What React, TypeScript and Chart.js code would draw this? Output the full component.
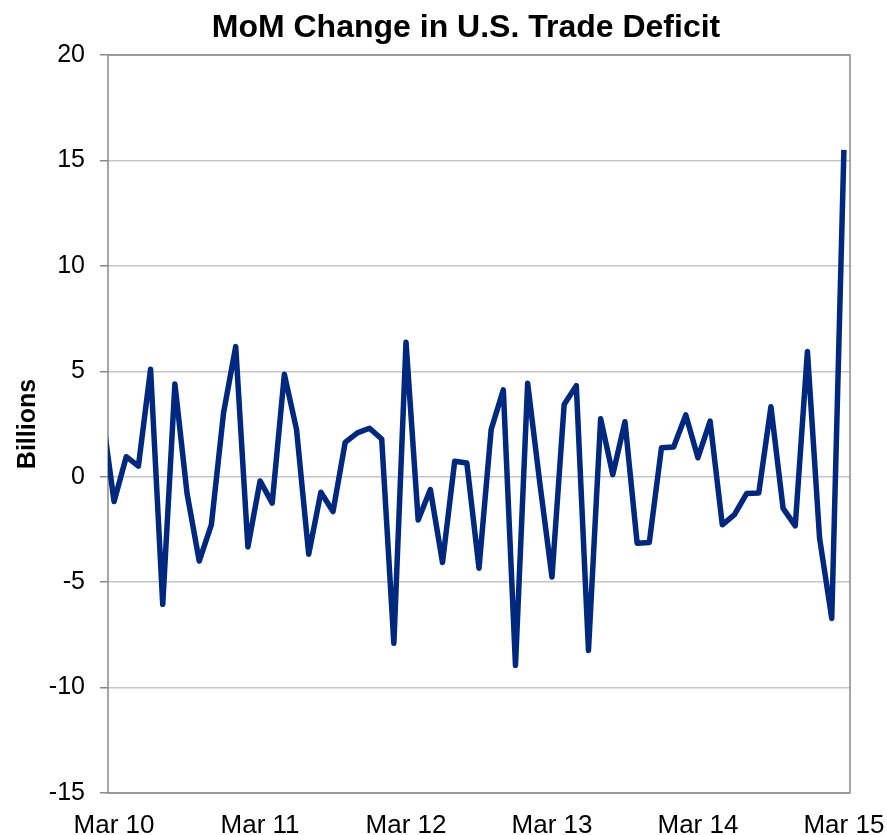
import React, { useEffect, useRef } from "react";
import { Chart, registerables } from "chart.js";

Chart.register(...registerables);

const TITLE = "MoM Change in U.S. Trade Deficit";
const Y_TITLE = "Billions";

// Month-over-month change (billions), one value per month starting Feb 10
const FIRST_MONTH_INDEX = -1;
const momChange: number[] = [
  3.1, -1.18, 0.95, 0.5, 5.1, -6.05, 4.4, -0.8, -4.0, -2.27,
  3.03, 6.17, -3.33, -0.2, -1.25, 4.86, 2.24, -3.68, -0.74, -1.65,
  1.63, 2.08, 2.3, 1.79, -7.9, 6.38, -2.05, -0.61, -4.07, 0.73,
  0.65, -4.34, 2.24, 4.12, -8.95, 4.43, -0.3, -4.76, 3.42, 4.32,
  -8.24, 2.75, 0.1, 2.61, -3.15, -3.12, 1.37, 1.41, 2.93, 0.9,
  2.64, -2.28, -1.8, -0.8, -0.77, 3.32, -1.5, -2.33, 5.94, -2.91,
  -6.72, 15.5,
];

// Tick labels, one every 12 months starting at month index 0 (Mar 10)
const xTickLabels: string[] = ["Mar 10", "Mar 11", "Mar 12", "Mar 13", "Mar 14", "Mar 15"];
const MONTHS_PER_TICK = 12;

const Y_MIN = -15;
const Y_MAX = 20;
const Y_STEP = 5;

const FONT = '"Liberation Sans", Arial, Helvetica, sans-serif';
const LINE_COLOR = "#00287f";

const plotFrame = {
  id: "plotFrame",
  beforeDatasetsDraw(chart: Chart) {
    const { ctx, chartArea } = chart;
    ctx.save();
    ctx.strokeStyle = "#898989";
    ctx.lineWidth = 1.5;
    ctx.strokeRect(chartArea.left, chartArea.top, chartArea.right - chartArea.left, chartArea.bottom - chartArea.top);
    ctx.restore();
  },
};

const chartHeading = {
  id: "chartHeading",
  afterDraw(chart: Chart) {
    const { ctx } = chart;
    ctx.save();
    ctx.font = `bold 32px ${FONT}`;
    ctx.fillStyle = "#000";
    ctx.textAlign = "center";
    ctx.textBaseline = "alphabetic";
    ctx.fillText(TITLE, 466, 37);
    ctx.restore();
  },
};

export default function App() {
  const canvasRef = useRef<HTMLCanvasElement | null>(null);

  useEffect(() => {
    if (!canvasRef.current) return;
    const points = momChange.map((v, i) => ({ x: i + FIRST_MONTH_INDEX, y: v }));
    const lastTick = (xTickLabels.length - 1) * MONTHS_PER_TICK;

    const chart = new Chart(canvasRef.current, {
      type: "line",
      data: {
        datasets: [
          {
            data: points,
            borderColor: LINE_COLOR,
            borderWidth: 5.5,
            borderJoinStyle: "round",
            pointRadius: 0,
            tension: 0,
            fill: false,
            clip: 0,
          },
        ],
      },
      options: {
        animation: false,
        responsive: false,
        parsing: false,
        layout: { padding: { left: 0, right: 37, top: 55, bottom: 0 } },
        plugins: {
          legend: { display: false },
          tooltip: { enabled: false },
          title: { display: false },
        },
        scales: {
          x: {
            type: "linear",
            min: -0.5,
            max: lastTick + 0.5,
            grid: { display: false },
            border: { display: false },
            afterBuildTicks: (scale: any) => {
              scale.ticks = xTickLabels.map((_, k) => ({ value: k * MONTHS_PER_TICK }));
            },
            afterFit: (scale: any) => {
              scale.height = 42;
              scale.paddingLeft = 0;
              scale.paddingRight = 0;
            },
            ticks: {
              autoSkip: false,
              maxRotation: 0,
              padding: 9,
              color: "#000",
              font: { family: FONT, size: 26 },
              callback: (value: any) => xTickLabels[Math.round(Number(value) / MONTHS_PER_TICK)] ?? "",
            },
          },
          y: {
            min: Y_MIN,
            max: Y_MAX,
            afterFit: (scale: any) => {
              scale.width = 108;
            },
            grid: {
              color: "#c6c6c6",
              lineWidth: 1.5,
              drawTicks: true,
              tickLength: 8,
              tickColor: "#898989",
              tickWidth: 1.5,
            },
            border: { display: false },
            ticks: {
              stepSize: Y_STEP,
              padding: 15,
              color: "#000",
              font: { family: FONT, size: 25 },
            },
            title: {
              display: true,
              text: Y_TITLE,
              color: "#000",
              font: { family: FONT, size: 25, weight: "bold" },
              padding: { top: 13, bottom: 0 },
            },
          },
        },
      },
      plugins: [plotFrame, chartHeading],
    });

    return () => chart.destroy();
  }, []);

  return (
    <div style={{ position: "fixed", left: 0, top: 0, width: 887, height: 835, background: "#fff" }}>
      <canvas ref={canvasRef} width={887} height={835} style={{ display: "block" }} />
    </div>
  );
}
